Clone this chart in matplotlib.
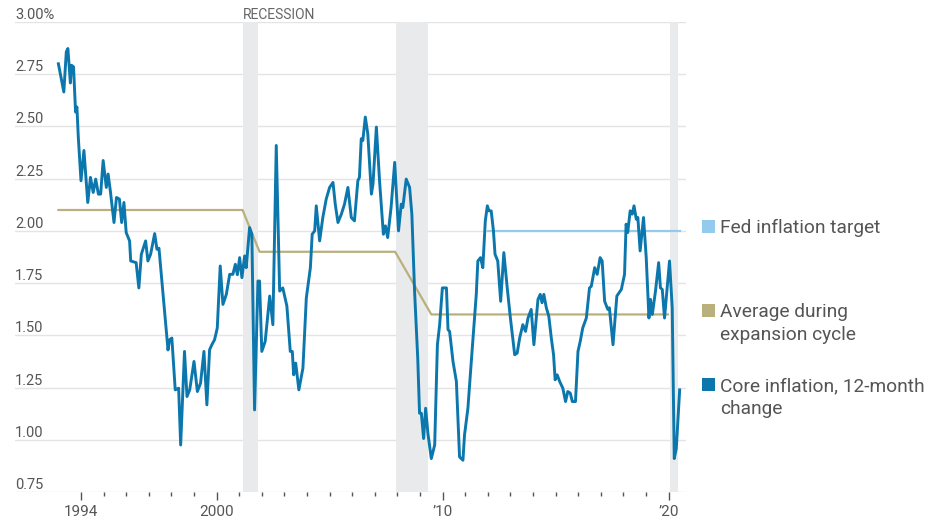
import matplotlib.pyplot as plt
from matplotlib.patches import Rectangle

plt.rcParams['font.family'] = ['Roboto', 'DejaVu Sans']

# core inflation, 12-month change (decimal year, percent)
core_t = [1993.00, 1993.24, 1993.35, 1993.42, 1993.53, 1993.58, 1993.67, 1993.76, 1993.82, 1993.88,
          1994.00, 1994.13, 1994.30, 1994.42, 1994.54, 1994.65, 1994.77, 1994.87, 1994.98, 1995.12,
          1995.20, 1995.30, 1995.46, 1995.57, 1995.70, 1995.80, 1995.90, 1996.00, 1996.15, 1996.20,
          1996.44, 1996.56, 1996.67, 1996.86, 1996.96, 1997.08, 1997.26, 1997.36, 1997.45, 1997.85,
          1997.92, 1998.02, 1998.17, 1998.32, 1998.41, 1998.58, 1998.69, 1998.81, 1999.00, 1999.15,
          1999.29, 1999.44, 1999.57, 1999.69, 1999.79, 1999.91, 2000.03, 2000.16, 2000.28, 2000.43,
          2000.58, 2000.72, 2000.83, 2000.92, 2001.02, 2001.12, 2001.24, 2001.31, 2001.46, 2001.56,
          2001.68, 2001.83, 2001.90, 2002.00, 2002.15, 2002.35, 2002.49, 2002.64, 2002.79, 2002.93,
          2003.11, 2003.26, 2003.35, 2003.41, 2003.50, 2003.64, 2003.82, 2003.97, 2004.15, 2004.23,
          2004.34, 2004.41, 2004.56, 2004.70, 2004.85, 2005.00, 2005.15, 2005.25, 2005.37, 2005.52,
          2005.66, 2005.81, 2005.96, 2006.10, 2006.25, 2006.32, 2006.40, 2006.47, 2006.58, 2006.69,
          2006.85, 2006.92, 2007.07, 2007.21, 2007.38, 2007.47, 2007.57, 2007.72, 2007.88, 2008.05,
          2008.17, 2008.24, 2008.39, 2008.54, 2008.64, 2008.76, 2008.90, 2008.98, 2009.06, 2009.16,
          2009.25, 2009.35, 2009.50, 2009.65, 2009.77, 2009.87, 2009.99, 2010.09, 2010.17, 2010.24,
          2010.31, 2010.46, 2010.61, 2010.75, 2010.90, 2010.97, 2011.12, 2011.27, 2011.49, 2011.56,
          2011.68, 2011.78, 2011.89, 2011.98, 2012.05, 2012.15, 2012.25, 2012.32, 2012.44, 2012.57,
          2012.71, 2012.86, 2013.00, 2013.19, 2013.30, 2013.41, 2013.55, 2013.67, 2013.78, 2013.92,
          2014.04, 2014.22, 2014.32, 2014.40, 2014.48, 2014.59, 2014.70, 2014.81, 2014.91, 2014.98,
          2015.07, 2015.18, 2015.32, 2015.44, 2015.54, 2015.65, 2015.74, 2015.88, 2015.99, 2016.09,
          2016.20, 2016.36, 2016.50, 2016.58, 2016.73, 2016.84, 2016.97, 2017.06, 2017.17, 2017.31,
          2017.38, 2017.54, 2017.71, 2017.91, 2018.05, 2018.12, 2018.19, 2018.30, 2018.39, 2018.47,
          2018.57, 2018.64, 2018.74, 2018.89, 2019.01, 2019.13, 2019.20, 2019.28, 2019.42, 2019.56,
          2019.64, 2019.72, 2019.82, 2020.04, 2020.16, 2020.25, 2020.34, 2020.49]
core_v = [2.80, 2.665, 2.857, 2.873, 2.708, 2.793, 2.785, 2.569, 2.593, 2.45,
          2.24, 2.385, 2.136, 2.256, 2.184, 2.248, 2.176, 2.176, 2.337, 2.208,
          2.272, 2.19, 2.04, 2.16, 2.152, 2.04, 2.136, 1.992, 1.952, 1.856,
          1.848, 1.727, 1.888, 1.952, 1.856, 1.888, 1.987, 1.912, 1.917, 1.43,
          1.479, 1.487, 1.239, 1.247, 0.975, 1.423, 1.207, 1.239, 1.375, 1.231,
          1.271, 1.423, 1.167, 1.431, 1.455, 1.479, 1.535, 1.832, 1.648, 1.696,
          1.792, 1.792, 1.84, 1.79, 1.872, 1.776, 1.88, 1.824, 2.016, 1.984,
          1.143, 1.76, 1.76, 1.423, 1.471, 1.688, 1.551, 2.409, 1.712, 1.727,
          1.64, 1.423, 1.423, 1.311, 1.367, 1.239, 1.343, 1.679, 1.824, 1.984,
          2.0, 2.12, 1.952, 2.064, 2.152, 2.208, 2.232, 2.128, 2.04, 2.08,
          2.128, 2.208, 2.064, 2.048, 2.24, 2.256, 2.441, 2.433, 2.545, 2.465,
          2.176, 2.224, 2.497, 2.24, 1.984, 2.024, 1.968, 2.112, 2.328, 2.0,
          2.128, 2.112, 2.248, 2.208, 2.08, 1.712, 1.391, 1.127, 1.127, 1.006,
          1.151, 1.031, 0.91, 0.975, 1.455, 1.551, 1.727, 1.727, 1.727, 1.527,
          1.519, 1.375, 1.279, 0.918, 0.902, 1.023, 1.151, 1.375, 1.696, 1.856,
          1.872, 1.824, 2.048, 2.12, 2.096, 2.096, 2.0, 1.888, 1.856, 1.663,
          1.896, 1.727, 1.583, 1.407, 1.415, 1.487, 1.551, 1.519, 1.583, 1.624,
          1.455, 1.672, 1.696, 1.656, 1.696, 1.632, 1.591, 1.487, 1.407, 1.287,
          1.311, 1.279, 1.247, 1.183, 1.231, 1.223, 1.183, 1.183, 1.423, 1.471,
          1.535, 1.583, 1.727, 1.735, 1.824, 1.792, 1.872, 1.856, 1.663, 1.624,
          1.632, 1.455, 1.688, 1.72, 1.792, 2.032, 1.992, 2.096, 2.08, 2.12,
          2.056, 2.064, 1.904, 2.064, 1.872, 1.583, 1.672, 1.6, 1.712, 1.848,
          1.727, 1.72, 1.583, 1.856, 1.632, 0.91, 0.958, 1.239]

# average during expansion cycle
avg_t = [1993.0, 2001.15, 2001.9, 2007.9, 2009.5, 2019.97]
avg_v = [2.10, 2.10, 1.90, 1.90, 1.60, 1.60]

# Fed inflation target
target_t = [2012.0, 2020.5]
target_v = [2.0, 2.0]

recessions = [(2001.17, 2001.83), (2007.92, 2009.37), (2020.04, 2020.42)]

y_ticks = [0.75, 1.00, 1.25, 1.50, 1.75, 2.00, 2.25, 2.50, 2.75, 3.00]
y_labels = ['0.75', '1.00', '1.25', '1.50', '1.75', '2.00', '2.25', '2.50', '2.75', '3.00%']
x_major = [1994, 2000, 2010, 2020]
x_labels = ['1994', '2000', '\u201910', '\u201920']

legend_labels = ['Fed inflation target', 'Average during\nexpansion cycle',
                 'Core inflation, 12-month\nchange']

c_core = '#0b77ad'
c_avg = '#b9b07c'
c_target = '#93cbec'
text_c = '#555555'

fig = plt.figure(figsize=(9.36, 5.23), dpi=100)
W, H = 936, 523
ax = fig.add_axes([15 / W, 1 - 492 / H, (686 - 15) / W, (492 - 22) / H])
ax.set_xlim(1991.08, 2020.77)
ax.set_ylim(0.75, 3.0)

for s in ax.spines.values():
    s.set_visible(False)

for v in y_ticks:
    ax.axhline(v, color='#e4e4e4', lw=1.0, zorder=0)

for a, b in recessions:
    ax.axvspan(a, b, color='#e9eaec', lw=0, zorder=0.5)

ax.plot(avg_t, avg_v, color=c_avg, lw=1.6, zorder=2)
ax.plot(target_t, target_v, color=c_target, lw=1.6, zorder=2)
ax.plot(core_t, core_v, color=c_core, lw=2.1, zorder=3, solid_joinstyle='round')

# y labels sit above the gridlines
for v, lab in zip(y_ticks, y_labels):
    ax.text(0, v, lab, transform=ax.get_yaxis_transform(), ha='left', va='bottom',
            fontsize=10.5, color=text_c, clip_on=False)
ax.set_yticks([])

ax.text(recessions[0][0], 3.0, 'RECESSION', ha='left', va='bottom', fontsize=10,
        color='#666666', clip_on=False)

ax.set_xticks(x_major)
ax.set_xticklabels(x_labels)
ax.set_xticks(range(1994, 2021), minor=True)
ax.tick_params(axis='x', which='major', length=6, width=1, color='#555555',
               labelsize=11, labelcolor=text_c, pad=3)
ax.tick_params(axis='x', which='minor', length=3, width=1, color='#555555')

# legend
leg_colors = [c_target, c_avg, c_core]
leg_y = [220, 304, 378]
for c, y, lab in zip(leg_colors, leg_y, legend_labels):
    fig.add_artist(Rectangle((702 / W, 1 - (y + 13) / H), 13 / W, 13 / H,
                             transform=fig.transFigure, color=c, lw=0))
    fig.text(720 / W, 1 - (y - 1) / H, lab, ha='left', va='top', fontsize=13.8,
             color=text_c, linespacing=1.35)

plt.savefig('out.png', dpi=100)
